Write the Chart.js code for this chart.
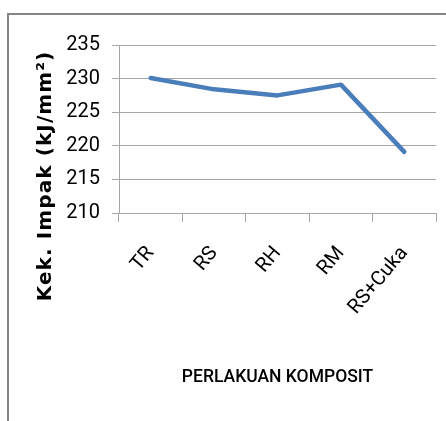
<!DOCTYPE html>
<html>
<head>
<meta charset="utf-8">
<script src="https://cdn.jsdelivr.net/npm/chart.js@4/dist/chart.umd.min.js"></script>
<style>
  html, body { margin: 0; padding: 0; background: #ffffff; overflow: hidden; }
  #frame { position: absolute; left: 7px; top: 13px; width: 600px; height: 600px; border: 2px solid #858585; box-sizing: border-box; }
  #c { position: absolute; left: 0; top: 0; }
</style>
</head>
<body>
<div id="frame"></div>
<canvas id="c" width="446" height="421"></canvas>
<script>
const categories = ['TR', 'RS', 'RH', 'RM', 'RS+Cuka'];
const impactValues = [230.1, 228.4, 227.5, 229.1, 219.1];
const yTickMin = 210;
const yTickMax = 235;
const yTickStep = 5;
const yAxisTitle = 'Kek. Impak (kJ/mm\u00B2)';
const xAxisTitle = 'PERLAKUAN KOMPOSIT';

const tickFont = "Roboto, 'Liberation Sans', sans-serif";

const yTitlePlugin = {
  id: 'yTitle',
  afterDraw(chart) {
    const ctx = chart.ctx;
    ctx.save();
    ctx.translate(46, 176);
    ctx.rotate(-Math.PI / 2);
    ctx.font = "bold 20px 'DejaVu Sans', sans-serif";
    try { ctx.letterSpacing = '1.1px'; } catch (e) {}
    ctx.fillStyle = '#000000';
    ctx.textAlign = 'center';
    ctx.textBaseline = 'middle';
    ctx.fillText(yAxisTitle, 0, 0);
    ctx.restore();
  }
};

new Chart(document.getElementById('c'), {
  type: 'line',
  data: {
    labels: categories,
    datasets: [{
      data: impactValues,
      borderColor: '#4a7ebb',
      borderWidth: 4.5,
      borderCapStyle: 'round',
      borderJoinStyle: 'round',
      pointRadius: 0,
      pointHoverRadius: 0,
      tension: 0,
      fill: false
    }]
  },
  options: {
    responsive: false,
    animation: false,
    events: [],
    layout: { padding: { left: 0, right: 10, top: 45, bottom: 0 } },
    plugins: {
      legend: { display: false },
      tooltip: { enabled: false }
    },
    scales: {
      x: {
        type: 'category',
        offset: true,
        grid: {
          offset: true,
          drawOnChartArea: false,
          drawTicks: true,
          tickLength: 9,
          color: '#a6a6a6',
          lineWidth: 1
        },
        border: { display: true, color: '#a6a6a6', width: 1 },
        ticks: {
          color: '#000000',
          font: { family: tickFont, size: 20 },
          minRotation: 50,
          maxRotation: 50,
          padding: 20,
          autoSkip: false
        },
        title: {
          display: true,
          text: xAxisTitle,
          color: '#000000',
          font: { family: tickFont, size: 17.5, weight: '500' },
          padding: { top: 0, bottom: 33 }
        },
        afterFit(scale) { scale.height = 421 - 213; }
      },
      y: {
        min: yTickMin,
        max: yTickMax,
        ticks: {
          stepSize: yTickStep,
          color: '#000000',
          font: { family: tickFont, size: 20 },
          padding: 12
        },
        grid: {
          color: '#a6a6a6',
          lineWidth: 1,
          drawTicks: true,
          tickLength: 7
        },
        border: { display: true, color: '#a6a6a6', width: 1 },
        title: { display: false },
        afterFit(scale) { scale.width = 119; }
      }
    }
  },
  plugins: [yTitlePlugin]
});
</script>
</body>
</html>
